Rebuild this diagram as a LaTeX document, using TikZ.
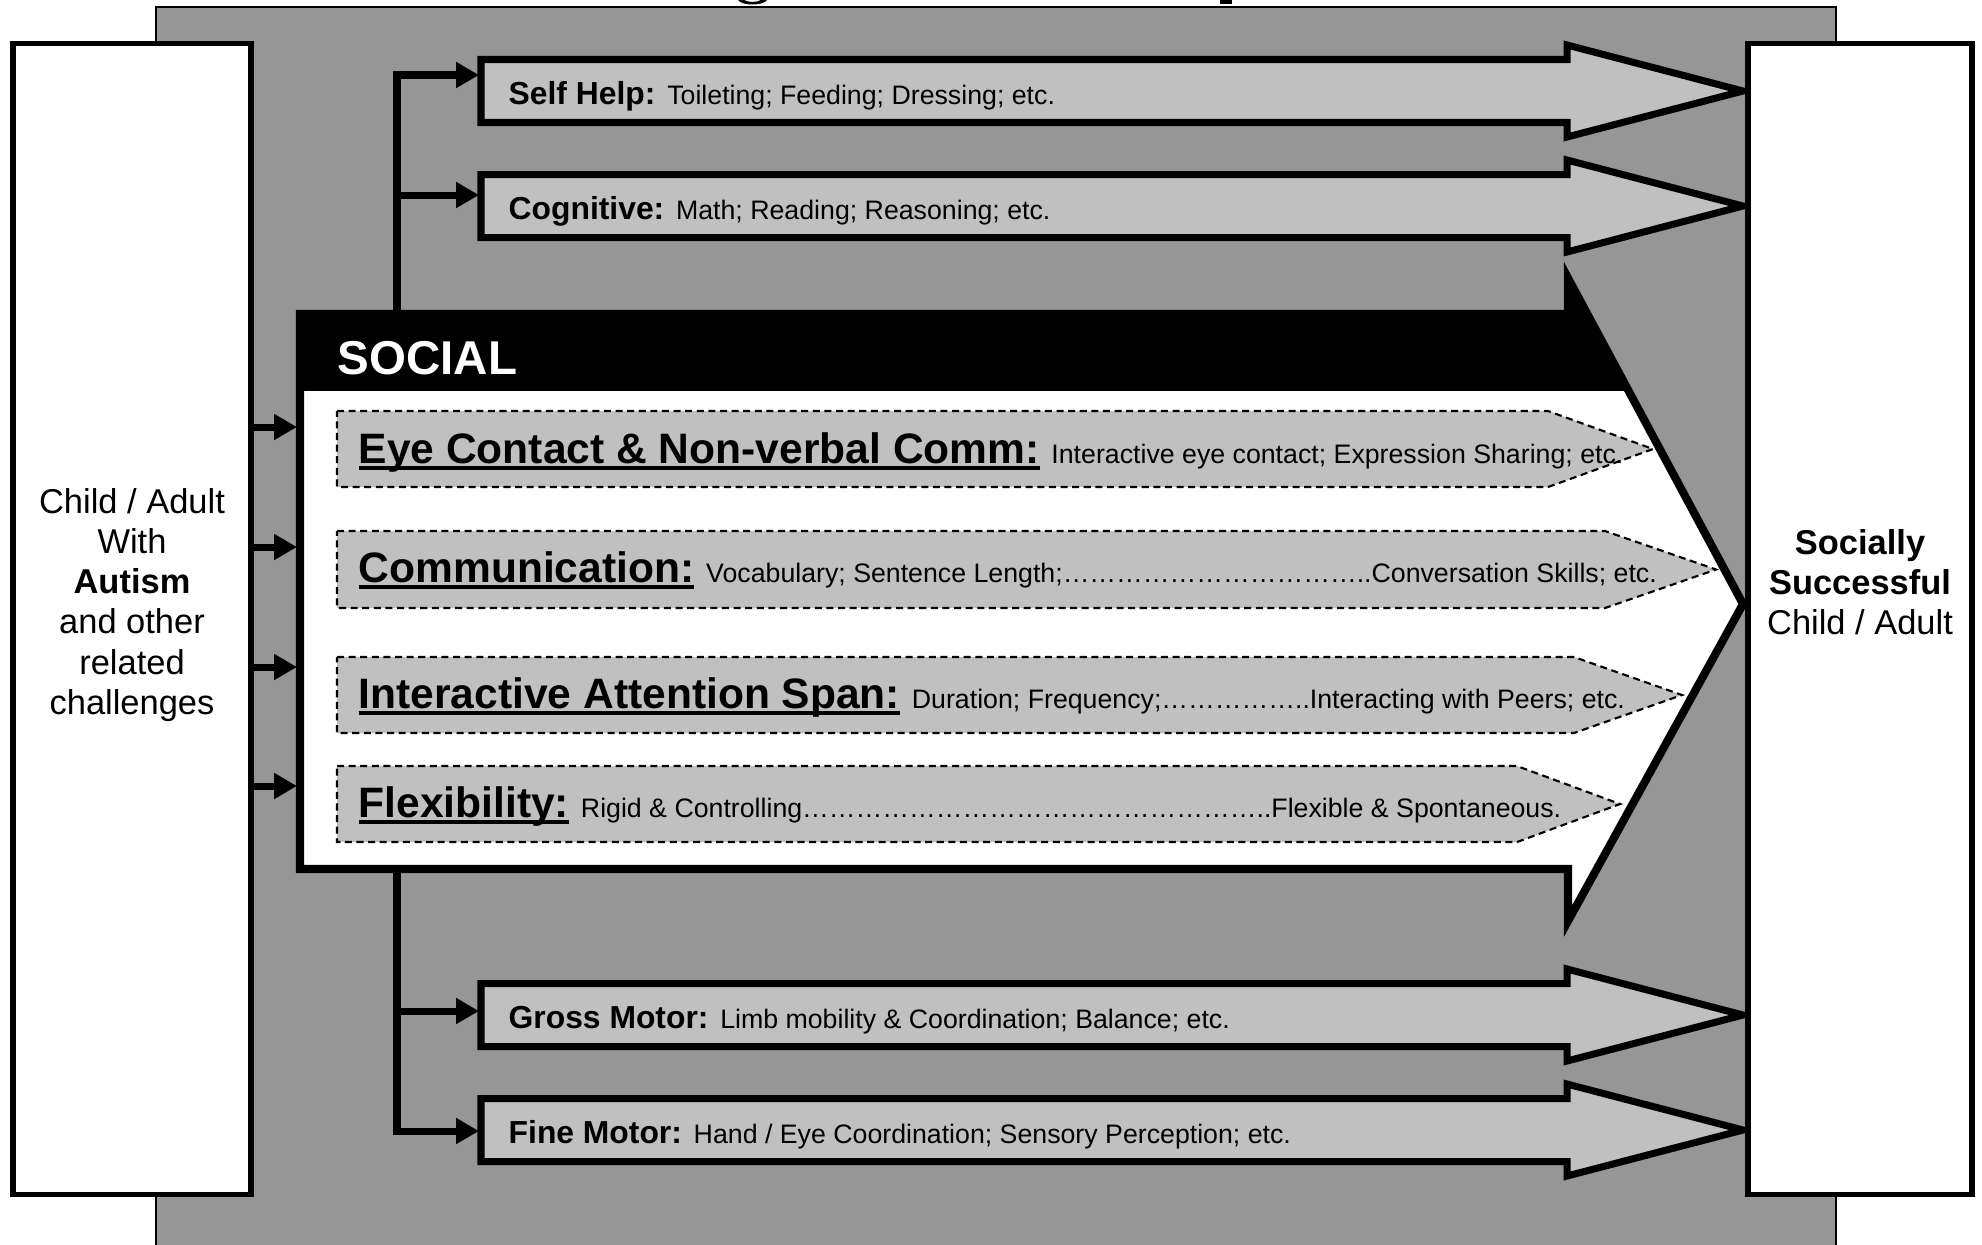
\documentclass[tikz,border=0pt]{standalone}
\usepackage{fontspec}
\setmainfont{Liberation Sans}
\usetikzlibrary{arrows.meta}
\definecolor{bggrey}{RGB}{150,150,150}
\definecolor{lightgrey}{RGB}{192,192,192}
\newsavebox\ulbox
\newcommand{\ulbf}[1]{\sbox\ulbox{#1}\rlap{\rule[-0.17em]{\wd\ulbox}{0.09em}}\usebox\ulbox}
\newcommand{\elli}{\char"2026\relax}
\newcommand{\catfont}{\fontsize{9.05}{11}\selectfont\bfseries}
\newcommand{\descfont}{\fontsize{7.6}{9}\selectfont\mdseries}
\newcommand{\subfont}{\fontsize{12.1}{14}\selectfont\bfseries}
\begin{document}
\begin{tikzpicture}[x=0.01cm,y=-0.01cm,
  conn/.style={line width=2pt,line join=miter,-{Triangle[length=6.5pt,width=7pt]}},
  catarrow/.style={draw=black,line width=2pt,fill=lightgrey,line join=miter},
  subarrow/.style={draw=black,line width=0.6pt,dash pattern=on 2pt off 1.3pt,fill=lightgrey},
  sidebox/.style={draw=black,line width=1.6pt,fill=white,inner sep=0pt},
  label/.style={anchor=base west,inner sep=0pt},
  boxtext/.style={align=center,inner sep=0pt,font=\fontsize{9.8}{11.4}\selectfont}
]
\useasboundingbox (0,0) rectangle (1982,1244);

% cut-off title descenders
\fill[black] (738,0) .. controls (742,6) and (763,6) .. (767,0) -- (761,0) .. controls (757,2.5) and (748,2.5) .. (744,0) -- cycle;
\fill[black] (1220,0) rectangle (1232,4);

% background panel
\filldraw[fill=bggrey,draw=black,line width=0.7pt] (156,7) rectangle (1836,1270);

% category arrows
\newcommand{\catshape}[1]{(481,#1-31.5) -- (1567,#1-31.5) -- (1567,#1-46) -- (1743,#1) -- (1567,#1+46) -- (1567,#1+31.5) -- (481,#1+31.5) -- cycle}
\draw[catarrow] \catshape{91};
\draw[catarrow] \catshape{206};
\draw[catarrow] \catshape{1015};
\draw[catarrow] \catshape{1130};

\node[label] (selfhelp) at (508,104) {\catfont Self Help: \descfont Toileting; Feeding; Dressing; etc.};
\node[label] (cognitive) at (508,219) {\catfont Cognitive: \descfont Math; Reading; Reasoning; etc.};
\node[label] (gross) at (508,1028) {\catfont Gross Motor: \descfont Limb mobility \& Coordination; Balance; etc.};
\node[label] (fine) at (508,1143) {\catfont Fine Motor: \descfont Hand / Eye Coordination; Sensory Perception; etc.};

% social arrow
\newcommand{\socshape}{(300,314) -- (1568,314) -- (1568,278) -- (1743,604) -- (1568,921) -- (1568,869) -- (300,869) -- cycle}
\fill[white] \socshape;
\begin{scope}
  \clip \socshape;
  \fill[black] (250,200) rectangle (1800,391);
\end{scope}
\draw[line width=2.3pt,line join=miter] \socshape;
\node[label,text=white,font=\fontsize{13.5}{16}\selectfont\bfseries] (social) at (337,374) {SOCIAL};

% social sub-arrows
\draw[subarrow] (337,411) -- (1548,411) -- (1653,449) -- (1548,487) -- (337,487) -- cycle;
\draw[subarrow] (337,531) -- (1605,531) -- (1716,569.5) -- (1605,608) -- (337,608) -- cycle;
\draw[subarrow] (337,657) -- (1574,657) -- (1682,695) -- (1574,733) -- (337,733) -- cycle;
\draw[subarrow] (337,766) -- (1517,766) -- (1620,804) -- (1517,842) -- (337,842) -- cycle;

\node[label] (eye) at (358,463) {\subfont\ulbf{Eye Contact \& Non-verbal Comm:} \descfont Interactive eye contact; Expression Sharing; etc.};
\node[label] (comm) at (358,582) {\subfont\ulbf{Communication:} \descfont Vocabulary; Sentence Length;\elli\elli\elli\elli\elli\elli\elli\elli\elli\elli\elli..Conversation Skills; etc.};
\node[label] (attn) at (358,708) {\subfont\ulbf{Interactive Attention Span:} \descfont Duration; Frequency;\elli\elli\elli\elli\elli..Interacting with Peers; etc.};
\node[label] (flex) at (358,817) {\subfont\ulbf{Flexibility:} \descfont Rigid \& Controlling\elli\elli\elli\elli\elli\elli\elli\elli\elli\elli\elli\elli\elli\elli\elli\elli\elli..Flexible \& Spontaneous.};

% side boxes
\node[sidebox,minimum width=2.38cm,minimum height=11.5cm] (leftbox) at (132,619) {};
\node[sidebox,minimum width=2.24cm,minimum height=11.5cm] (rightbox) at (1860,619) {};
\node[boxtext] (lefttext) at (132,605) {Child / Adult\\With\\\textbf{Autism}\\and other\\related\\challenges};
\node[boxtext] (righttext) at (1860,582) {\textbf{Socially}\\\textbf{Successful}\\Child / Adult};

% connector coordinates
\coordinate (soctop) at (397,312);
\coordinate (socbot) at (397,871);
\coordinate (shin) at (479,75);
\coordinate (cgin) at (479,195);
\coordinate (gmin) at (479,1011);
\coordinate (fmin) at (479,1131);
\coordinate (s1) at (297,427);
\coordinate (s2) at (297,547);
\coordinate (s3) at (297,667);
\coordinate (s4) at (297,786);

\draw[conn] (soctop) |- (shin);
\draw[conn] (soctop |- cgin) -- (cgin);
\draw[conn] (socbot) |- (fmin);
\draw[conn] (socbot |- gmin) -- (gmin);

\draw[conn] (leftbox.east |- s1) -- (s1);
\draw[conn] (leftbox.east |- s2) -- (s2);
\draw[conn] (leftbox.east |- s3) -- (s3);
\draw[conn] (leftbox.east |- s4) -- (s4);
\end{tikzpicture}
\end{document}
